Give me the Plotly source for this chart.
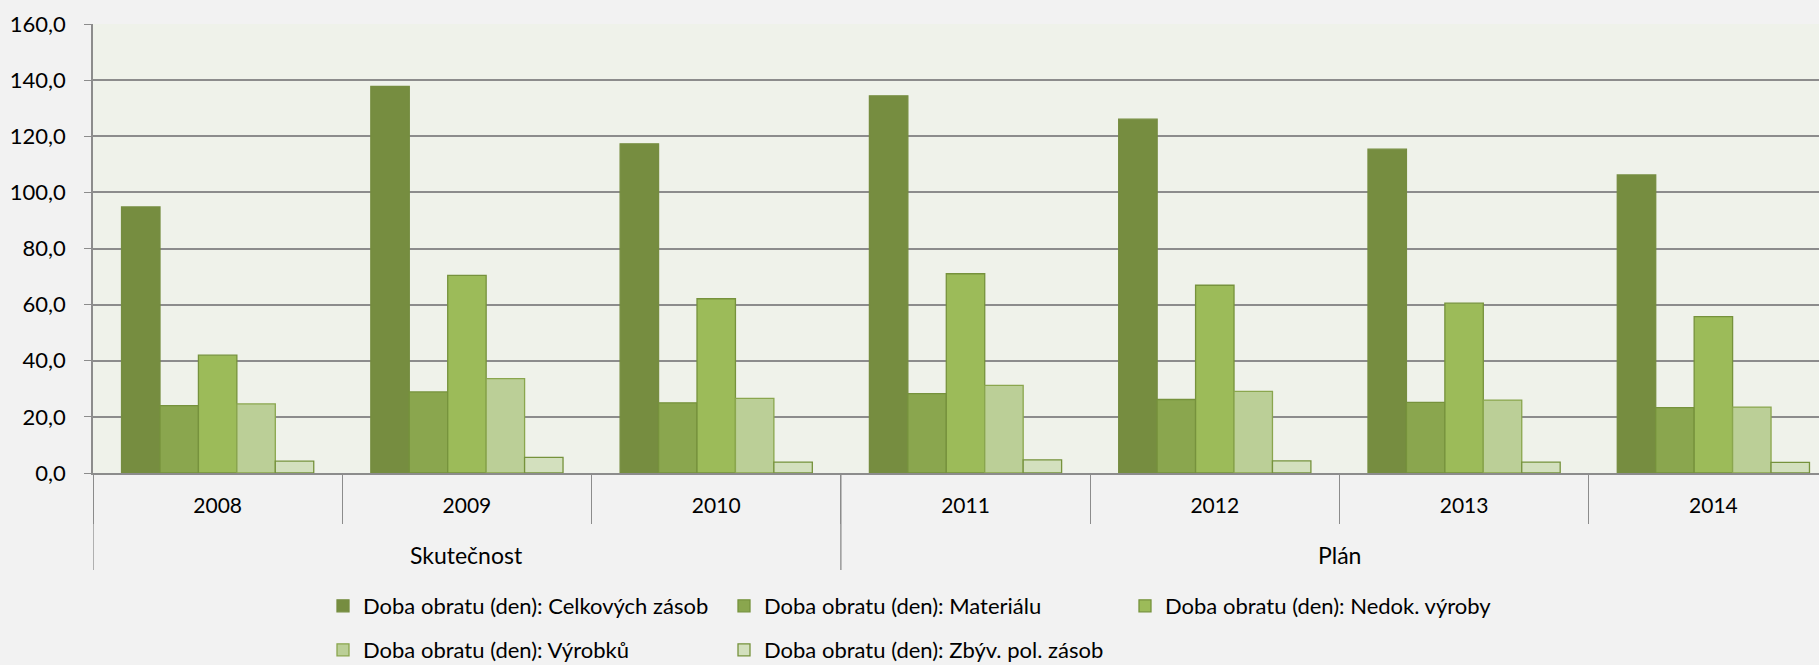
import plotly.graph_objects as go

# Categories
years = ["2008", "2009", "2010", "2011", "2012", "2013", "2014"]
groups = ["Skutečnost", "Plán"]
group_of_year = ["Skutečnost", "Skutečnost", "Skutečnost", "Plán", "Plán", "Plán", "Plán"]

# Series values (days)
celkovych_zasob = [94.8, 137.8, 117.3, 134.4, 126.1, 115.4, 106.2]
materialu = [24.0, 28.9, 25.0, 28.3, 26.2, 25.2, 23.3]
nedok_vyroby = [42.0, 70.4, 62.1, 71.0, 66.9, 60.5, 55.7]
vyrobku = [24.6, 33.6, 26.6, 31.2, 29.1, 26.0, 23.5]
zbyv_pol_zasob = [4.2, 5.6, 3.9, 4.7, 4.3, 3.9, 3.8]

series_names = [
    "Doba obratu (den): Celkových zásob",
    "Doba obratu (den): Materiálu",
    "Doba obratu (den): Nedok. výroby",
    "Doba obratu (den): Výrobků",
    "Doba obratu (den): Zbýv. pol. zásob",
]
series_values = [celkovych_zasob, materialu, nedok_vyroby, vyrobku, zbyv_pol_zasob]
fill_colors = ["#768D40", "#8AA64E", "#9CBB59", "#BBCF97", "#D3E0BE"]
line_colors = ["#768D40", "#76923C", "#76923C", "#8AA64E", "#76923C"]
legend_ids = ["legend", "legend", "legend", "legend2", "legend2"]

FONT = "Lato"
TEXT_SIZE = 23
LEGEND_SIZE = 22
W, H = 1819, 665
M_L, M_R, M_T, M_B = 93, 0, 24, 192
plot_h = H - M_T - M_B
plot_w = W - M_L - M_R


def py(px):
    """Convert a pixel row (from top of page) to paper y."""
    return (H - M_B - px) / plot_h


def px_x(px):
    return (px - M_L) / plot_w


fig = go.Figure()
for name, vals, fc, lc, lg in zip(series_names, series_values, fill_colors, line_colors, legend_ids):
    fig.add_trace(go.Bar(
        x=years, y=vals, name=name,
        marker=dict(color=fc, line=dict(color=lc, width=1.3)),
        legend=lg,
    ))

# Outer group labels and dividers
n = len(years)
shapes = []
annotations = []
for g in groups:
    idx = [i for i, gy in enumerate(group_of_year) if gy == g]
    center = sum(idx) / len(idx)
    annotations.append(dict(
        x=center, xref="x", y=py(555), yref="paper", text=g, showarrow=False,
        font=dict(family=FONT, size=TEXT_SIZE, color="#000000"), xanchor="center", yanchor="middle",
    ))
    left = idx[0] - 0.5
    shapes.append(dict(
        type="line", xref="x", yref="paper", x0=left, x1=left, y0=0, y1=py(570),
        line=dict(color="#8C8C8C", width=1.3),
    ))

legend_common = dict(
    orientation="h", x=px_x(323), xanchor="left", yanchor="middle",
    entrywidth=356, entrywidthmode="pixels", bgcolor="rgba(0,0,0,0)",
    font=dict(family=FONT, size=LEGEND_SIZE, color="#000000"), traceorder="normal",
)

fig.update_layout(
    width=W, height=H,
    margin=dict(l=M_L, r=M_R, t=M_T, b=M_B, pad=0, autoexpand=False),
    paper_bgcolor="#F2F2F2",
    plot_bgcolor="#EFF2EA",
    separators=", ",
    barmode="group",
    bargap=0.229,
    bargroupgap=0,
    font=dict(family=FONT, size=TEXT_SIZE, color="#000000"),
    shapes=shapes,
    annotations=annotations,
    legend=dict(legend_common, y=py(606)),
    legend2=dict(legend_common, y=py(650)),
    xaxis=dict(
        type="category",
        range=[-0.5, n - 0.5 - 19 / 249],
        showline=True, linecolor="#8C8C8C", linewidth=1.5,
        ticks="outside", tickson="boundaries", ticklen=49, tickwidth=1.3, tickcolor="#8C8C8C",
        ticklabelstandoff=13,
        tickfont=dict(family=FONT, size=21, color="#000000"),
        showgrid=False, zeroline=False, fixedrange=True, automargin=False,
    ),
    yaxis=dict(
        range=[0, 160], dtick=20, tick0=0, tickformat=".1f",
        showgrid=True, gridcolor="#8C8C8C", gridwidth=1.5,
        showline=True, linecolor="#8C8C8C", linewidth=1.5,
        ticks="outside", ticklen=7, tickwidth=1.3, tickcolor="#8C8C8C",
        ticklabelstandoff=14,
        tickfont=dict(family=FONT, size=22, color="#000000"),
        zeroline=False, fixedrange=True, automargin=False,
    ),
)

fig.write_html("out.html")
